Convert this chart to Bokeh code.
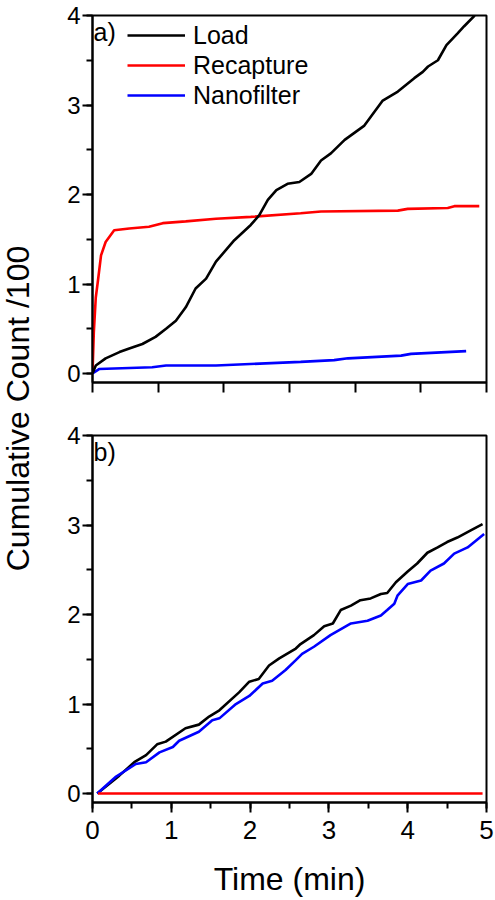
import math
from bokeh.plotting import figure
from bokeh.models import Range1d, SingleIntervalTicker, FixedTicker, Legend, LegendItem, Label
from bokeh.layouts import row, column
from bokeh.embed import file_html
from bokeh.resources import INLINE

# ---- data: panel a) ----
load_a_x = [0, 0.05, 0.2, 0.41, 0.56, 0.76, 0.96, 1.12, 1.27, 1.42, 1.57, 1.73, 1.88,
            2.16, 2.41, 2.54, 2.67, 2.80, 2.97, 3.15, 3.33, 3.48, 3.63, 3.84, 4.14,
            4.42, 4.65, 4.90, 5.03, 5.11, 5.26, 5.39, 5.56, 5.66, 5.82]
load_a_y = [0, 0.09, 0.17, 0.24, 0.28, 0.33, 0.41, 0.50, 0.59, 0.74, 0.95, 1.06, 1.25,
            1.49, 1.66, 1.77, 1.94, 2.05, 2.12, 2.14, 2.23, 2.38, 2.46, 2.61, 2.77,
            3.05, 3.15, 3.30, 3.37, 3.43, 3.50, 3.67, 3.80, 3.88, 4.0]

rec_a_x = [0, 0.02, 0.05, 0.08, 0.13, 0.2, 0.33, 0.56, 0.86, 1.07, 1.42, 1.88, 2.41,
           3.17, 3.48, 4.65, 4.80, 5.41, 5.51, 5.89]
rec_a_y = [0, 0.46, 0.85, 1.02, 1.32, 1.47, 1.60, 1.62, 1.64, 1.68, 1.70, 1.73, 1.75,
           1.79, 1.81, 1.82, 1.84, 1.85, 1.87, 1.87]

nano_a_x = [0, 0.1, 0.91, 1.12, 1.88, 3.17, 3.68, 3.89, 4.70, 4.85, 5.69]
nano_a_y = [0, 0.05, 0.07, 0.09, 0.09, 0.13, 0.15, 0.17, 0.20, 0.22, 0.25]

# ---- data: panel b) ----
load_b_x = [0.06, 0.34, 0.53, 0.68, 0.82, 0.93, 1.18, 1.35, 1.48, 1.61, 1.86, 1.99,
            2.11, 2.24, 2.37, 2.58, 2.64, 2.81, 2.94, 3.05, 3.15, 3.28, 3.40, 3.53,
            3.66, 3.74, 3.85, 4.00, 4.12, 4.25, 4.38, 4.50, 4.63, 4.80, 4.95]
load_b_y = [0, 0.20, 0.35, 0.43, 0.55, 0.58, 0.73, 0.77, 0.86, 0.93, 1.13, 1.25,
            1.28, 1.43, 1.51, 1.62, 1.67, 1.77, 1.87, 1.90, 2.05, 2.10, 2.16, 2.18,
            2.23, 2.24, 2.36, 2.48, 2.57, 2.69, 2.75, 2.81, 2.86, 2.94, 3.01]

nano_b_x = [0.06, 0.30, 0.55, 0.68, 0.85, 1.02, 1.10, 1.35, 1.52, 1.61, 1.82, 1.99,
            2.16, 2.28, 2.45, 2.58, 2.66, 2.81, 3.02, 3.28, 3.49, 3.66, 3.74, 3.83,
            3.87, 4.00, 4.17, 4.29, 4.46, 4.59, 4.76, 4.97]
nano_b_y = [0, 0.19, 0.33, 0.35, 0.46, 0.52, 0.59, 0.69, 0.82, 0.84, 1.00, 1.09,
            1.23, 1.26, 1.38, 1.49, 1.56, 1.64, 1.77, 1.90, 1.93, 1.99, 2.05, 2.12,
            2.21, 2.34, 2.38, 2.49, 2.57, 2.68, 2.75, 2.90]

rec_b_x = [0.07, 4.95]
rec_b_y = [0, 0]

series_names = ["Load", "Recapture", "Nanofilter"]
panel_tags = ["a)", "b)"]
x_label = "Time (min)"
y_label = "Cumulative Count /100"
top_x_ticks = [0, 1, 2, 3, 4, 5, 6]

FONT = "Liberation Sans"
BLACK, RED, BLUE = "#000000", "#ff0000", "#0000ff"
LW = 2.6


def style(p, show_x_labels):
    p.grid.visible = False
    p.outline_line_color = "black"
    p.outline_line_width = 2
    p.background_fill_color = "white"
    p.border_fill_color = "white"
    for ax in (p.xaxis[0], p.yaxis[0]):
        ax.axis_line_width = 2
        ax.axis_line_color = "black"
        ax.major_tick_line_width = 2
        ax.minor_tick_line_width = 2
        ax.major_tick_line_color = "black"
        ax.minor_tick_line_color = "black"
        ax.major_tick_in = 0
        ax.minor_tick_in = 0
        ax.major_tick_out = 10
        ax.minor_tick_out = 6
        ax.major_label_text_font = FONT
        ax.axis_label_text_font = FONT
        ax.axis_label_text_font_style = "normal"
        ax.major_label_text_color = "black"
        ax.axis_label_text_color = "black"
    p.yaxis[0].ticker = SingleIntervalTicker(interval=1, num_minor_ticks=2)
    p.yaxis[0].major_label_text_font_size = "24px"
    p.yaxis[0].major_label_standoff = 2
    if not show_x_labels:
        p.xaxis[0].ticker = FixedTicker(ticks=[], minor_ticks=top_x_ticks)
        p.xaxis[0].minor_tick_out = 10
    else:
        p.xaxis[0].ticker = SingleIntervalTicker(interval=1, num_minor_ticks=2)
        p.xaxis[0].major_label_text_font_size = "26px"
        p.xaxis[0].major_label_standoff = 8
        p.xaxis[0].axis_label = x_label
        p.xaxis[0].axis_label_text_font_size = "32px"
        p.xaxis[0].axis_label_standoff = 19


# ---- panel a ----
pa = figure(width=447, height=407, x_range=Range1d(0, 6), y_range=Range1d(-0.1, 4),
            toolbar_location=None, output_backend="svg",
            min_border_left=44, min_border_right=9, min_border_top=15, min_border_bottom=25)
style(pa, False)
r_rec = pa.line(rec_a_x, rec_a_y, line_color=RED, line_width=LW)
r_nano = pa.line(nano_a_x, nano_a_y, line_color=BLUE, line_width=LW)
r_load = pa.line(load_a_x, load_a_y, line_color=BLACK, line_width=LW)
legend = Legend(items=[LegendItem(label=series_names[0], renderers=[r_load]),
                       LegendItem(label=series_names[1], renderers=[r_rec]),
                       LegendItem(label=series_names[2], renderers=[r_nano])],
                location=(35, 272), glyph_width=58, glyph_height=30, label_height=30,
                label_standoff=8, spacing=0, padding=0, margin=0,
                border_line_alpha=0, background_fill_alpha=0,
                label_text_font=FONT, label_text_font_size="25px", label_text_color="black")
pa.add_layout(legend, "center")
pa.add_layout(Label(x=1, y=351, x_units="screen", y_units="screen", text=panel_tags[0],
                    text_font=FONT, text_font_size="25px", text_baseline="middle",
                    text_color="black"))

# ---- panel b ----
pb = figure(width=447, height=492, x_range=Range1d(0, 5), y_range=Range1d(-0.1, 4),
            toolbar_location=None, output_backend="svg",
            min_border_left=44, min_border_right=9, min_border_top=28, min_border_bottom=96)
style(pb, True)
pb.line(load_b_x, load_b_y, line_color=BLACK, line_width=LW)
pb.line(nano_b_x, nano_b_y, line_color=BLUE, line_width=LW)
pb.line(rec_b_x, rec_b_y, line_color=RED, line_width=LW)
pb.add_layout(Label(x=1, y=351, x_units="screen", y_units="screen", text=panel_tags[1],
                    text_font=FONT, text_font_size="25px", text_baseline="middle",
                    text_color="black"))

# ---- shared y label ----
LH = 899
pl = figure(width=48, height=LH, x_range=Range1d(0, 1), y_range=Range1d(0, 1),
            toolbar_location=None, output_backend="svg", min_border=0)
pl.axis.visible = False
pl.grid.visible = False
pl.outline_line_color = None
pl.add_layout(Label(x=17, y=LH - 408, x_units="screen", y_units="screen", text=y_label,
                    angle=math.pi / 2, text_align="center", text_baseline="alphabetic",
                    text_font=FONT, text_font_size="32px", text_color="black"))

layout = row(pl, column(pa, pb, spacing=0), spacing=0)
open("out.html", "w").write(file_html(layout, INLINE))
